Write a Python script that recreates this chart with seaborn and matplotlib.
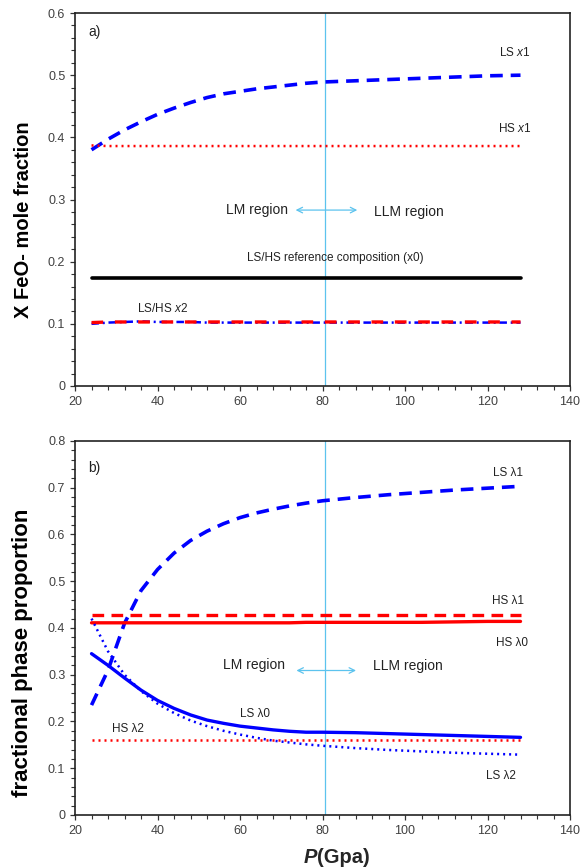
import numpy as np
import pandas as pd
import seaborn as sns
import matplotlib
matplotlib.use("Agg")
import matplotlib.pyplot as plt

sns.set_style("ticks")
plt.rcParams["font.family"] = ["Liberation Sans", "DejaVu Sans"]
plt.rcParams["mathtext.fontset"] = "custom"
plt.rcParams["mathtext.rm"] = "Liberation Sans"
plt.rcParams["mathtext.it"] = "Liberation Sans:italic"

# Pressure grid (GPa)
pressure = [24, 28, 32, 36, 40, 44, 48, 52, 56, 60, 64, 68, 72, 76, 80,
            88, 96, 104, 112, 120, 128]

# (a) FeO mole fractions
ls_x1 = [0.380, 0.397, 0.412, 0.425, 0.437, 0.447, 0.456, 0.464, 0.470, 0.474,
         0.478, 0.481, 0.484, 0.487, 0.489, 0.491, 0.493, 0.495, 0.497, 0.499, 0.500]
hs_x1 = [0.387, 0.386, 0.386, 0.386, 0.386, 0.386, 0.386, 0.386, 0.386, 0.386,
         0.386, 0.386, 0.386, 0.386, 0.386, 0.386, 0.386, 0.386, 0.386, 0.386, 0.386]
x0_ref = [0.174] * len(pressure)
ls_x2 = [0.100, 0.102, 0.103, 0.104, 0.103, 0.103, 0.103, 0.102, 0.102, 0.102,
         0.102, 0.102, 0.102, 0.102, 0.102, 0.102, 0.102, 0.102, 0.102, 0.102, 0.102]
hs_x2 = [0.102, 0.103, 0.103, 0.103, 0.103, 0.103, 0.103, 0.103, 0.103, 0.103,
         0.103, 0.103, 0.103, 0.103, 0.103, 0.103, 0.103, 0.103, 0.103, 0.103, 0.103]

# (b) fractional phase proportions
ls_l1 = [0.235, 0.310, 0.410, 0.480, 0.525, 0.560, 0.587, 0.607, 0.623, 0.636,
         0.646, 0.654, 0.661, 0.667, 0.672, 0.679, 0.685, 0.690, 0.695, 0.699, 0.703]
hs_l1 = [0.428] * len(pressure)
hs_l0 = [0.411, 0.411, 0.411, 0.411, 0.411, 0.411, 0.411, 0.411, 0.411, 0.411,
         0.411, 0.411, 0.411, 0.412, 0.412, 0.412, 0.412, 0.412, 0.413, 0.414, 0.414]
ls_l0 = [0.345, 0.320, 0.293, 0.267, 0.245, 0.228, 0.214, 0.203, 0.196, 0.190,
         0.186, 0.182, 0.179, 0.177, 0.177, 0.176, 0.174, 0.172, 0.170, 0.168, 0.166]
ls_l2 = [0.420, 0.350, 0.300, 0.265, 0.238, 0.218, 0.202, 0.190, 0.180, 0.172,
         0.165, 0.159, 0.155, 0.151, 0.148, 0.143, 0.139, 0.136, 0.133, 0.131, 0.129]
hs_l2 = [0.161] * len(pressure)

BLUE = "#0000ff"
RED = "#ff0000"
SKY = "#5cc3ee"
TXT = "#222222"

fig = plt.figure(figsize=(5.88, 8.68), dpi=100)
ax_a = fig.add_axes([0.1276, 0.5553, 0.8418, 0.4297])
ax_b = fig.add_axes([0.1276, 0.0611, 0.8418, 0.4309])


def draw(ax, y, color, ls, lw):
    sns.lineplot(x=pressure, y=y, ax=ax, color=color, linestyle=ls, lw=lw,
                 estimator=None, legend=False)


# panel a
draw(ax_a, ls_x1, BLUE, (0, (3.5, 2.2)), 2.6)
draw(ax_a, hs_x1, RED, (0, (0.8, 1.6)), 1.8)
draw(ax_a, x0_ref, "black", "-", 2.6)
draw(ax_a, ls_x2, BLUE, (0, (3, 1.5, 0.8, 1.5)), 1.8)
draw(ax_a, hs_x2, RED, (0, (3.5, 3.5)), 2.4)

# panel b
draw(ax_b, ls_l1, BLUE, (0, (3.5, 2.2)), 2.6)
draw(ax_b, hs_l1, RED, (0, (3.5, 2.2)), 2.4)
draw(ax_b, hs_l0, RED, "-", 2.4)
draw(ax_b, ls_l0, BLUE, "-", 2.4)
draw(ax_b, ls_l2, BLUE, (0, (0.8, 1.6)), 1.8)
draw(ax_b, hs_l2, RED, (0, (0.8, 1.6)), 1.8)

for ax, ymax, ystep in [(ax_a, 0.6, 0.1), (ax_b, 0.8, 0.1)]:
    ax.axvline(80.7, color=SKY, lw=0.9, zorder=0)
    ax.set_xlim(20, 140)
    ax.set_ylim(0, ymax)
    ax.set_xticks(np.arange(20, 141, 20))
    ax.set_xticks(np.arange(20, 141, 4), minor=True)
    ax.set_yticks(np.arange(0, ymax + 1e-9, ystep))
    ax.set_yticks(np.arange(0, ymax + 1e-9, 0.02), minor=True)
    ax.yaxis.set_major_formatter(matplotlib.ticker.FuncFormatter(
        lambda v, p: "0" if abs(v) < 1e-9 else f"{v:.1f}"))
    ax.tick_params(which="major", direction="out", length=3.5, width=0.9,
                   labelsize=9, labelcolor="#404040", color="#333333")
    ax.tick_params(which="minor", direction="out", length=2.8, width=0.8,
                   color="#333333")
    for s in ax.spines.values():
        s.set_color("#222222")
        s.set_linewidth(1.2)
    ax.set_xlabel("")
    ax.set_ylabel("")

# annotations, panel a
ax_a.text(23.3, 0.57, "a)", fontsize=10, color=TXT, ha="left", va="center")
ax_a.text(126.7, 0.537, r"LS $\mathit{x}$1", fontsize=8.5, color=TXT, ha="center", va="center")
ax_a.text(126.7, 0.415, r"HS $\mathit{x}$1", fontsize=8.5, color=TXT, ha="center", va="center")
ax_a.text(64.1, 0.283, "LM region", fontsize=10, color=TXT, ha="center", va="center")
ax_a.text(101.0, 0.280, "LLM region", fontsize=10, color=TXT, ha="center", va="center")
ax_a.annotate("", xy=(89.1, 0.283), xytext=(72.8, 0.283),
              arrowprops=dict(arrowstyle="<->", color=SKY, lw=0.9))
ax_a.text(83.0, 0.206, "LS/HS reference composition (x0)", fontsize=8.5, color=TXT,
          ha="center", va="center")
ax_a.text(41.1, 0.125, r"LS/HS $\mathit{x}$2", fontsize=8.5, color=TXT, ha="center", va="center")
ax_a.set_ylabel("X FeO- mole fraction", fontsize=14.5, fontweight="bold", color="black")
ax_a.yaxis.set_label_coords(-0.085, 0.445)

# annotations, panel b
ax_b.text(23.3, 0.742, "b)", fontsize=10, color=TXT, ha="left", va="center")
ax_b.text(125.0, 0.732, "LS \u03bb1", fontsize=8.5, color=TXT, ha="center", va="center")
ax_b.text(125.0, 0.458, "HS \u03bb1", fontsize=8.5, color=TXT, ha="center", va="center")
ax_b.text(126.0, 0.368, "HS \u03bb0", fontsize=8.5, color=TXT, ha="center", va="center")
ax_b.text(63.4, 0.321, "LM region", fontsize=10, color=TXT, ha="center", va="center")
ax_b.text(100.7, 0.319, "LLM region", fontsize=10, color=TXT, ha="center", va="center")
ax_b.annotate("", xy=(88.8, 0.309), xytext=(73.0, 0.309),
              arrowprops=dict(arrowstyle="<->", color=SKY, lw=0.9))
ax_b.text(63.6, 0.216, "LS \u03bb0", fontsize=8.5, color=TXT, ha="center", va="center")
ax_b.text(32.9, 0.184, "HS \u03bb2", fontsize=8.5, color=TXT, ha="center", va="center")
ax_b.text(123.3, 0.083, "LS \u03bb2", fontsize=8.5, color=TXT, ha="center", va="center")
ax_b.set_ylabel("fractional phase proportion", fontsize=16, fontweight="bold", color="black")
ax_b.yaxis.set_label_coords(-0.085, 0.433)

# x-axis title: bold italic P followed by bold (Gpa)
fig.text(0.539, 0.0125, "P", fontsize=14.5, fontweight="bold", fontstyle="italic",
         ha="right", va="center")
fig.text(0.539, 0.0125, "(Gpa)", fontsize=14.5, fontweight="bold", ha="left", va="center")

fig.savefig("out.png", dpi=100, facecolor="white")
